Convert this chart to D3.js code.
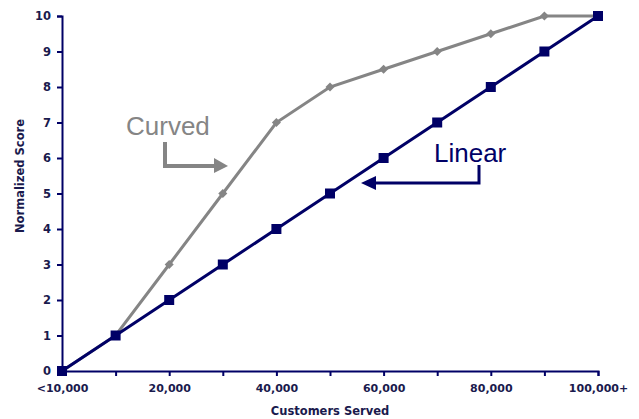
<!DOCTYPE html>
<html>
<head>
<meta charset="utf-8">
<script src="https://cdn.jsdelivr.net/npm/d3@7"></script>
<style>
  body { margin: 0; background: #fff; }
  svg text { font-family: "DejaVu Sans", Verdana, sans-serif; }
</style>
</head>
<body>
<div id="graphique"></div>
<script>
// data
const categories = ["<10,000", "10,000", "20,000", "30,000", "40,000", "50,000",
  "60,000", "70,000", "80,000", "90,000", "100,000+"]
const linear = [0, 1, 2, 3, 4, 5, 6, 7, 8, 9, 10]
const curved = [0, 1, 3, 5, 7, 8, 8.5, 9, 9.5, 10, 10]
const yTicks = [0, 1, 2, 3, 4, 5, 6, 7, 8, 9, 10]

const navy = "#000066", grey = "#858585"

let margin = { top: 16, right: 41, bottom: 48, left: 62 },
    width = 639 - margin.left - margin.right,
    height = 419 - margin.top - margin.bottom

let x = d3.scalePoint().domain(categories).range([0, width])
let y = d3.scaleLinear().domain([0, 10]).range([height, 0])

let svg = d3.select("#graphique").append("svg")
    .attr("width", 639)
    .attr("height", 419)
    .append("g")
    .attr("transform", "translate(" + margin.left + "," + margin.top + ")")

// x axis
let xAxis = svg.append("g")
    .attr("transform", "translate(0," + height + ")")
    .call(d3.axisBottom(x).tickSizeOuter(0).tickSize(5).tickPadding(8)
        .tickFormat((d, i) => i % 2 == 0 ? d : ""))
xAxis.select(".domain").attr("stroke", navy).attr("stroke-width", 2)
xAxis.selectAll(".tick line").attr("stroke", navy).attr("stroke-width", 2)
xAxis.selectAll("text").attr("fill", "#1a1a4d").attr("font-size", 11).attr("font-weight", "bold")

// y axis
let yAxis = svg.append("g")
    .call(d3.axisLeft(y).tickValues(yTicks).tickSizeOuter(0).tickSize(5).tickPadding(6))
yAxis.select(".domain").attr("stroke", navy).attr("stroke-width", 2)
yAxis.selectAll(".tick line").attr("stroke", navy).attr("stroke-width", 2)
yAxis.selectAll("text").attr("fill", "#1a1a4d").attr("font-size", 11.5).attr("font-weight", "bold")

// axis titles
svg.append("text")
    .attr("x", width / 2).attr("y", height + 44)
    .attr("text-anchor", "middle")
    .attr("font-size", 11.5).attr("font-weight", "bold").attr("fill", "#1a1a4d")
    .text("Customers Served")
svg.append("text")
    .attr("transform", "translate(" + (-38) + "," + (176 - margin.top) + ") rotate(-90)")
    .attr("text-anchor", "middle")
    .attr("font-size", 11.5).attr("font-weight", "bold").attr("fill", "#1a1a4d")
    .text("Normalized Score")

let line = d3.line().x((d, i) => x(categories[i])).y(d => y(d))

// curved series
svg.append("path").datum(curved)
    .attr("fill", "none").attr("stroke", grey).attr("stroke-width", 3)
    .attr("d", line)
svg.selectAll(".diamond").data(curved).enter().append("rect")
    .attr("class", "diamond")
    .attr("fill", grey)
    .attr("x", -3.2).attr("y", -3.2).attr("width", 6.4).attr("height", 6.4)
    .attr("transform", (d, i) => "translate(" + x(categories[i]) + "," + y(d) + ") rotate(45)")

// linear series
svg.append("path").datum(linear)
    .attr("fill", "none").attr("stroke", navy).attr("stroke-width", 3)
    .attr("d", line)
svg.selectAll(".square").data(linear).enter().append("rect")
    .attr("class", "square")
    .attr("fill", navy)
    .attr("x", (d, i) => x(categories[i]) - 5)
    .attr("y", d => y(d) - 5)
    .attr("width", 10).attr("height", 10)

// annotations (page coordinates)
let root = d3.select("svg")
root.append("text").attr("x", 126).attr("y", 135)
    .attr("font-size", 26).attr("fill", grey)
    .style("font-family", "'Liberation Sans', Arial, sans-serif")
    .text("Curved")
root.append("path")
    .attr("d", "M165,142 V166 H216")
    .attr("fill", "none").attr("stroke", grey).attr("stroke-width", 4)
root.append("path").attr("d", "M214,158 L228,166 L214,173 Z").attr("fill", grey)

root.append("text").attr("x", 434).attr("y", 162)
    .attr("font-size", 26).attr("fill", navy)
    .style("font-family", "'Liberation Sans', Arial, sans-serif")
    .text("Linear")
root.append("path")
    .attr("d", "M479,165 V183 H374")
    .attr("fill", "none").attr("stroke", navy).attr("stroke-width", 3)
root.append("path").attr("d", "M376,176 L361,183 L376,190 Z").attr("fill", navy)
</script>
</body>
</html>
